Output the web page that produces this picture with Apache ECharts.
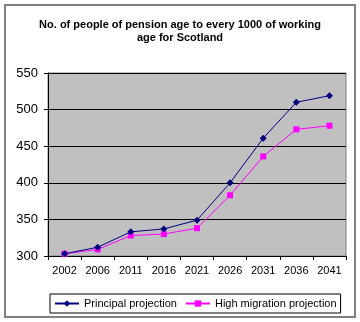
<!DOCTYPE html>
<html>
<head>
<meta charset="utf-8">
<script src="https://cdn.jsdelivr.net/npm/echarts@6/dist/echarts.min.js"></script>
<style>
  html, body { margin: 0; padding: 0; background: #ffffff; }
  #chart { width: 360px; height: 322px; }
</style>
</head>
<body>
<div id="chart"></div>
<script>
// Years of projection
const years = ['2002', '2006', '2011', '2016', '2021', '2026', '2031', '2036', '2041'];
// Pensioners per 1000 working-age people
const principal = [303, 312, 333, 337, 349, 400, 461, 510, 519];
const highMigration = [303, 309, 328, 330, 338, 383, 436, 473, 478];
// Value axis ticks
const yTicks = [300, 350, 400, 450, 500, 550];

const chart = echarts.init(document.getElementById('chart'), null, { renderer: 'canvas' });

const font = 'Arial, "Liberation Sans", sans-serif';

chart.setOption({
  animation: false,
  backgroundColor: '#ffffff',
  title: {
    text: 'No. of people of pension age to every 1000 of working\nage for Scotland',
    left: 'center',
    top: 13,
    textStyle: { fontFamily: font, fontSize: 11, fontWeight: 'bold', color: '#000', lineHeight: 13 }
  },
  graphic: [{
    type: 'rect',
    shape: { x: 5, y: 5, width: 350, height: 312 },
    style: { fill: 'none', stroke: '#808080', lineWidth: 2 },
    silent: true,
    z: 100
  }],
  legend: {
    bottom: 9,
    left: 50,
    itemWidth: 24,
    itemHeight: 8,
    itemGap: 8,
    padding: [4, 4, 4, 4],
    borderColor: '#000',
    borderWidth: 1,
    textStyle: { fontFamily: font, fontSize: 11, color: '#000' },
    data: ['Principal projection', 'High migration projection']
  },
  grid: {
    left: 48, right: 14, top: 73, bottom: 66,
    show: true,
    backgroundColor: '#c0c0c0',
    borderColor: '#808080',
    borderWidth: 1
  },
  xAxis: {
    type: 'category',
    data: years,
    boundaryGap: true,
    axisLine: { lineStyle: { color: '#000', width: 1 } },
    axisTick: { show: true, length: 4, lineStyle: { color: '#000' } },
    axisLabel: { fontFamily: font, fontSize: 11, color: '#000', margin: 9 },
    splitLine: { show: false }
  },
  yAxis: {
    type: 'value',
    min: yTicks[0],
    max: yTicks[yTicks.length - 1],
    interval: 50,
    axisLine: { show: true, lineStyle: { color: '#000', width: 1 } },
    axisTick: { show: true, length: 4, lineStyle: { color: '#000' } },
    axisLabel: { fontFamily: font, fontSize: 13, color: '#000', margin: 10 },
    splitLine: { show: true, lineStyle: { color: '#000', width: 1 } }
  },
  series: [
    {
      name: 'Principal projection',
      type: 'line',
      data: principal,
      symbol: 'diamond',
      symbolSize: 7,
      lineStyle: { color: '#000080', width: 1 },
      itemStyle: { color: '#000080' },
      z: 3
    },
    {
      name: 'High migration projection',
      type: 'line',
      data: highMigration,
      symbol: 'rect',
      symbolSize: 6,
      lineStyle: { color: '#ff00ff', width: 1 },
      itemStyle: { color: '#ff00ff' },
      z: 2
    }
  ]
});
</script>
</body>
</html>
